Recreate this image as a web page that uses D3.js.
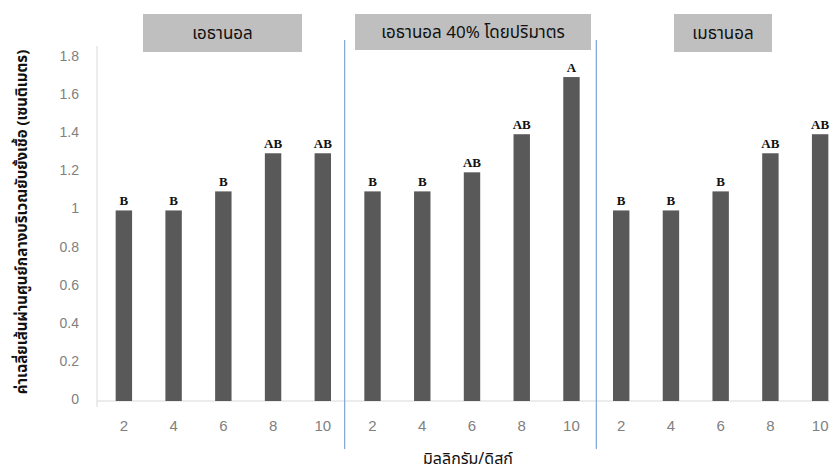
<!DOCTYPE html>
<html><head><meta charset="utf-8">
<script src="https://cdn.jsdelivr.net/npm/d3@7"></script>
<style>
body{margin:0;background:#fff;}
svg{display:block;}
</style></head>
<body>
<svg id="c" width="830" height="472"></svg>
<script>
const groups = ["เอธานอล", "เอธานอล 40% โดยปริมาตร", "เมธานอล"];
const doses = ["2", "4", "6", "8", "10"];
const values = [
  [1.0, 1.0, 1.1, 1.3, 1.3],
  [1.1, 1.1, 1.2, 1.4, 1.7],
  [1.0, 1.0, 1.1, 1.3, 1.4]
];
const letters = [
  ["B", "B", "B", "AB", "AB"],
  ["B", "B", "AB", "AB", "A"],
  ["B", "B", "B", "AB", "AB"]
];
const yTicks = [0, 0.2, 0.4, 0.6, 0.8, 1, 1.2, 1.4, 1.6, 1.8];
const yTitle = "ค่าเฉลี่ยเส้นผ่านศูนย์กลางบริเวณยับยั้งเชื้อ (เซนติเมตร)";
const xTitle = "มิลลิกรัม/ดิสก์";

const rows = [];
groups.forEach((g, gi) => doses.forEach((d, di) => rows.push({key: gi + "-" + d, g: gi, dose: d, v: values[gi][di], lab: letters[gi][di]})));

const svg = d3.select("#c");
const thai = "Tahoma, 'Noto Sans Thai', 'Leelawadee UI', 'DejaVu Sans', sans-serif";

const x = d3.scaleBand().domain(rows.map(r => r.key)).range([99, 845]).paddingInner(0.67).paddingOuter(0.335);
const y = d3.scaleLinear().domain([0, 1.8]).range([401, 58]);

// baseline
svg.append("line").attr("x1", 97).attr("x2", 830).attr("y1", y(0)).attr("y2", y(0))
  .attr("stroke", "#d9d9d9").attr("stroke-width", 1);
// left axis line
svg.append("line").attr("x1", 97).attr("x2", 97).attr("y1", 46).attr("y2", 407)
  .attr("stroke", "#d9d9d9").attr("stroke-width", 1);

// y tick labels
const yAxis = d3.axisLeft(y).tickValues(yTicks).tickSize(0).tickPadding(0).tickFormat(d => String(d));
const ya = svg.append("g").attr("transform", "translate(79,-2)").call(yAxis);
ya.select(".domain").remove();
ya.selectAll("text").attr("fill", "#808080").attr("font-size", 14).attr("font-family", "'Liberation Sans', Arial, sans-serif");

// x tick labels
const xAxis = d3.axisBottom(x).tickSize(0).tickPadding(0).tickFormat(k => k.split("-")[1]);
const xa = svg.append("g").attr("transform", "translate(0,420)").call(xAxis);
xa.select(".domain").remove();
xa.selectAll("text").attr("fill", "#808080").attr("font-size", 15).attr("font-family", "'Liberation Sans', Arial, sans-serif");

// bars
svg.append("g").selectAll("rect").data(rows).join("rect")
  .attr("x", d => x(d.key)).attr("width", x.bandwidth())
  .attr("y", d => y(d.v)).attr("height", d => y(0) - y(d.v))
  .attr("fill", "#595959");

// letters
svg.append("g").selectAll("text").data(rows).join("text")
  .attr("x", d => x(d.key) + x.bandwidth() / 2).attr("y", d => y(d.v) - 5)
  .attr("text-anchor", "middle").attr("font-family", "'Liberation Serif', 'Times New Roman', serif")
  .attr("font-weight", "bold").attr("font-size", 13).attr("fill", "#111")
  .text(d => d.lab);

// separators
[1, 2].forEach(gi => {
  const k = gi + "-" + doses[0];
  const sx = x(k) - (x.step() - x.bandwidth()) / 2 - (gi === 1 ? 3 : 0);
  svg.append("line").attr("x1", sx).attr("x2", sx).attr("y1", 40).attr("y2", 449)
    .attr("stroke", "#7ea3d6").attr("stroke-width", 1.2);
});

// header boxes
const boxes = [
  {x0: 143, x1: 302, y0: 14, y1: 52},
  {x0: 355, x1: 591, y0: 14, y1: 50},
  {x0: 674, x1: 772, y0: 14, y1: 52}
];
groups.forEach((g, gi) => {
  const b = boxes[gi];
  svg.append("rect").attr("x", b.x0).attr("y", b.y0).attr("width", b.x1 - b.x0).attr("height", b.y1 - b.y0)
    .attr("fill", "#bfbfbf");
  svg.append("text").attr("x", (b.x0 + b.x1) / 2).attr("y", (b.y0 + b.y1) / 2 + 6)
    .attr("text-anchor", "middle").attr("font-family", thai).attr("font-size", 17).attr("fill", "#111")
    .text(g);
});

// axis titles
svg.append("text").attr("transform", "translate(27,222) rotate(-90)")
  .attr("text-anchor", "middle").attr("font-family", thai).attr("font-size", 15).attr("font-weight", "bold")
  .attr("fill", "#111").text(yTitle);
svg.append("text").attr("x", 468).attr("y", 464)
  .attr("text-anchor", "middle").attr("font-family", thai).attr("font-size", 16).attr("fill", "#111")
  .text(xTitle);
</script>
</body></html>
